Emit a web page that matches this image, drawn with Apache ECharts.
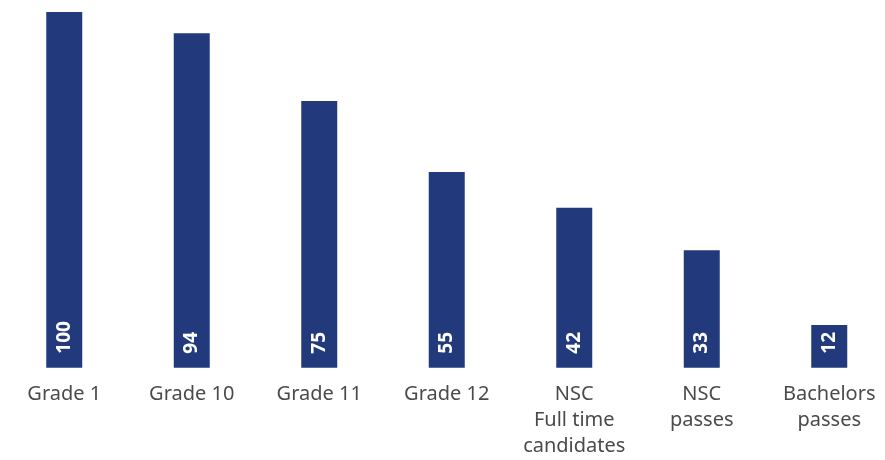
<!DOCTYPE html>
<html><head><meta charset="utf-8">
<script src="https://cdn.jsdelivr.net/npm/echarts@6/dist/echarts.min.js"></script>
<style>html,body{margin:0;padding:0;background:#fff}#c{width:885px;height:460px}</style>
</head><body><div id="c"></div>
<script>
const categories = ['Grade 1', 'Grade 10', 'Grade 11', 'Grade 12', 'NSC\nFull time\ncandidates', 'NSC\npasses', 'Bachelors\npasses'];
const barValues = [100, 94, 75, 55, 45, 33, 12];
const valueLabels = ['100', '94', '75', '55', '42', '33', '12'];

const chart = echarts.init(document.getElementById('c'));
chart.setOption({
  animation: false,
  grid: { left: 0.5, top: 12, width: 892.5, bottom: 92.3, containLabel: false, outerBoundsMode: 'none' },
  xAxis: {
    type: 'category', data: categories,
    axisLine: { show: false }, axisTick: { show: false },
    axisLabel: { color: '#4a4a4a', fontSize: 20, fontFamily: 'Noto Sans', lineHeight: 26, margin: 14, interval: 0 }
  },
  yAxis: { type: 'value', min: 0, max: 100, show: false, splitLine: { show: false } },
  series: [{
    type: 'bar', data: barValues, barWidth: 36,
    itemStyle: { color: '#223a7c' },
    label: {
      show: true, position: 'insideBottom', rotate: 90, distance: 14,
      align: 'left', verticalAlign: 'middle',
      color: '#fff', fontWeight: 'bold', fontSize: 19, fontFamily: 'Noto Sans',
      formatter: p => valueLabels[p.dataIndex]
    }
  }]
});
</script></body></html>
